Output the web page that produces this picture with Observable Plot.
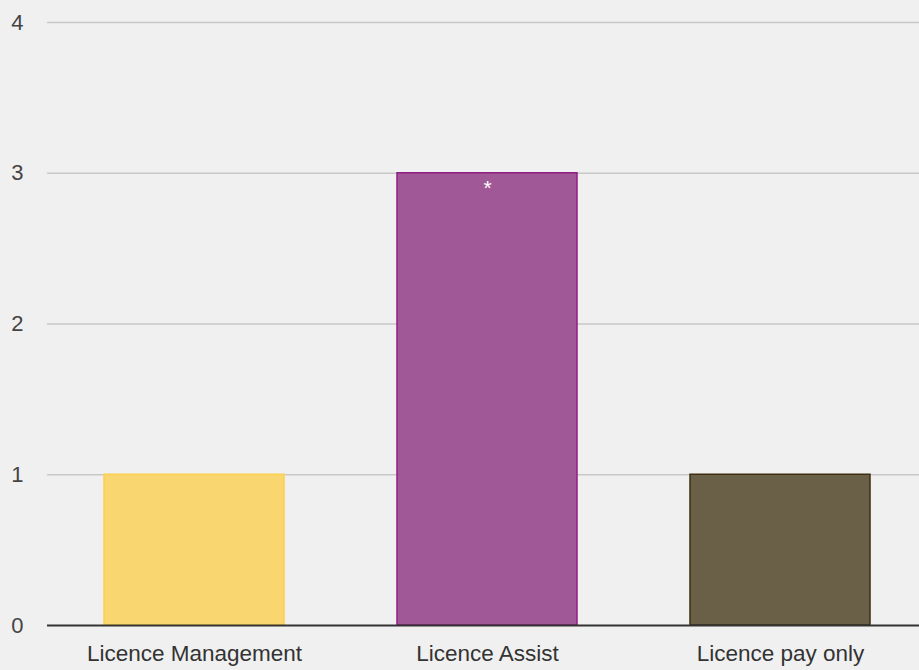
<!DOCTYPE html>
<html>
<head>
<meta charset="utf-8">
<script src="https://cdn.jsdelivr.net/npm/d3@7"></script>
<script src="https://cdn.jsdelivr.net/npm/@observablehq/plot@0.6"></script>
<style>
  html, body { margin: 0; padding: 0; background: #f0f0f0; }
  #chart svg { display: block; background: #f0f0f0; }
</style>
</head>
<body>
<div id="chart"></div>
<script>
const categories = ["Licence Management", "Licence Assist", "Licence pay only"];
const values = [1, 3, 1];
const notes = ["", "*", ""];
const fills = ["#fad670", "#a15896", "#6a5f47"];
const strokes = ["#fcd04d", "#8e1f84", "#3d2e12"];
const yTicks = [0, 1, 2, 3, 4];

const data = categories.map((c, i) => ({category: c, value: values[i], note: notes[i], fill: fills[i], stroke: strokes[i]}));

const chart = Plot.plot({
  width: 919,
  height: 670,
  marginLeft: 47,
  marginRight: -8,
  marginTop: 22,
  marginBottom: 45,
  style: {background: "#f0f0f0", fontFamily: "'Liberation Sans', Arial, sans-serif", fontSize: "22px", color: "#444"},
  x: {domain: categories, paddingInner: 0.385, paddingOuter: 0.19, label: null},
  y: {domain: [0, 4], label: null},
  marks: [
    Plot.ruleY(yTicks.filter(d => d > 0), {stroke: "#c8c8c8", strokeWidth: 1.5, strokeOpacity: 1}),
    Plot.barY(data, {x: "category", y: "value", fill: d => d.fill, stroke: d => d.stroke, strokeWidth: 1.5, inset: 0}),
    Plot.text(data, {x: "category", y: "value", text: "note", fill: "white", lineAnchor: "top", dy: 7, fontSize: 21}),
    Plot.ruleY([0], {stroke: "#333", strokeWidth: 2}),
    Plot.axisY({ticks: yTicks, tickFormat: d => String(d), tickSize: 0, tickPadding: 24, fontSize: 22, fill: "#444"}),
    Plot.axisX({tickSize: 0, tickPadding: 20, fontSize: 22.5, fill: "#333"})
  ]
});
document.getElementById("chart").appendChild(chart);
</script>
</body>
</html>
